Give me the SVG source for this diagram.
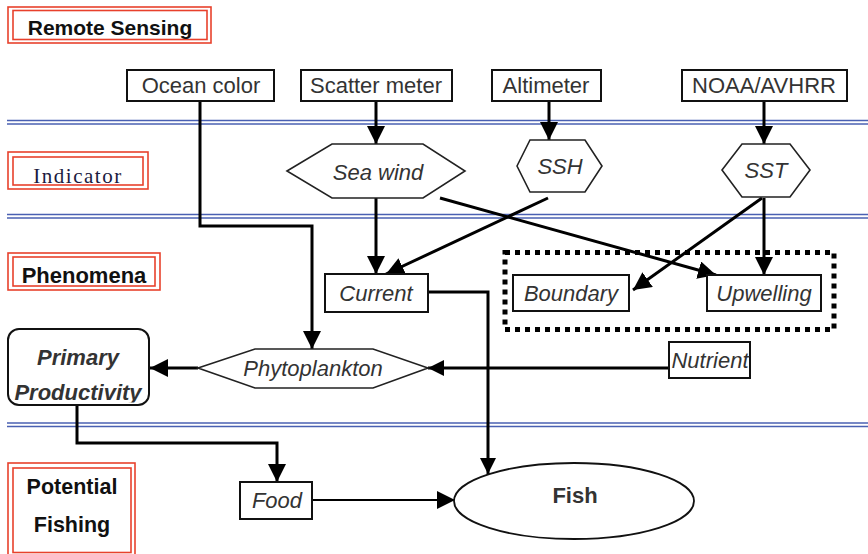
<svg xmlns="http://www.w3.org/2000/svg" width="868" height="554" viewBox="0 0 868 554">
  <defs>
    <marker id="arrow" viewBox="0 0 10 10" refX="10" refY="5" markerUnits="userSpaceOnUse" markerWidth="18" markerHeight="18" orient="auto">
      <path d="M0,0 L10,5 L0,10 z" fill="#000"/>
    </marker>
    <marker id="arrow-s" viewBox="0 0 10 10" refX="10" refY="5" markerUnits="userSpaceOnUse" markerWidth="16" markerHeight="16" orient="auto">
      <path d="M0,0 L10,5 L0,10 z" fill="#000"/>
    </marker>
    <clipPath id="pp-clip">
      <rect x="9" y="330" width="140" height="72.5"/>
    </clipPath>
  </defs>
  <style>
    .sep { stroke: #4a60b2; stroke-width: 1.6; fill: none; }
    .lbl-out, .lbl-in { fill: none; stroke: #e8412c; stroke-width: 1.6; }
    .lbl { font-family: "Liberation Sans", Arial, sans-serif; font-weight: bold; fill: #111; }
    .box { fill: #fff; stroke: #111; stroke-width: 2; }
    .hex { fill: #fff; stroke: #222; stroke-width: 1.6; }
    .t { font-family: "Liberation Sans", Arial, sans-serif; font-size: 22px; fill: #333; text-anchor: middle; }
    .ti { font-family: "Liberation Sans", Arial, sans-serif; font-size: 22px; font-style: italic; fill: #333; text-anchor: middle; }
    .edge { fill: none; stroke: #000; stroke-width: 3; }
    .edge-thin { fill: none; stroke: #000; stroke-width: 2; }
  </style>

  <rect x="0" y="0" width="868" height="554" fill="#fff"/>

  <!-- layer separators -->
  <g id="separators">
    <line class="sep" x1="7" y1="120.5" x2="868" y2="120.5"/>
    <line class="sep" x1="7" y1="124" x2="868" y2="124"/>
    <line class="sep" x1="7" y1="214.5" x2="868" y2="214.5"/>
    <line class="sep" x1="7" y1="218" x2="868" y2="218"/>
    <line class="sep" x1="7" y1="423" x2="868" y2="423"/>
    <line class="sep" x1="7" y1="426.5" x2="868" y2="426.5"/>
  </g>

  <!-- layer labels -->
  <g id="label-remote-sensing">
    <rect class="lbl-out" x="8" y="7" width="203" height="36"/>
    <rect class="lbl-in" x="13" y="10.5" width="194" height="29"/>
    <text class="lbl" x="110" y="35" font-size="21" text-anchor="middle">Remote Sensing</text>
  </g>
  <g id="label-indicator">
    <rect class="lbl-out" x="8" y="152" width="140" height="37"/>
    <rect class="lbl-in" x="13" y="157" width="130" height="28"/>
    <text x="78" y="183" font-family="Liberation Serif, 'Times New Roman', serif" font-size="21" letter-spacing="1.5" fill="#1a1a40" text-anchor="middle">Indicator</text>
  </g>
  <g id="label-phenomena">
    <rect class="lbl-out" x="8" y="253" width="152" height="37"/>
    <rect class="lbl-in" x="13" y="257" width="142" height="29"/>
    <text class="lbl" x="84" y="283" font-size="22" text-anchor="middle">Phenomena</text>
  </g>
  <g id="label-potential-fishing">
    <rect class="lbl-out" x="8" y="463" width="127" height="96"/>
    <rect class="lbl-in" x="13" y="468" width="118" height="84.5"/>
    <text class="lbl" x="72" y="494" font-size="21.5" text-anchor="middle" fill="#333">Potential</text>
    <text class="lbl" x="72" y="532" font-size="21.5" text-anchor="middle" fill="#333">Fishing</text>
  </g>

  <!-- connectors -->
  <g id="connectors">
    <path class="edge" d="M200,101 V226 H312 V349" marker-end="url(#arrow)"/>
    <path class="edge" d="M376,101 V144" marker-end="url(#arrow)"/>
    <path class="edge" d="M549,101 V140" marker-end="url(#arrow)"/>
    <path class="edge" d="M764,101 V144" marker-end="url(#arrow)"/>
    <path class="edge" d="M376,198 V274" marker-end="url(#arrow)"/>
    <path class="edge" d="M548,198 L386,274" marker-end="url(#arrow)"/>
    <path class="edge" d="M440,198 L716,275" marker-end="url(#arrow)"/>
    <path class="edge" d="M762,198 L633,290" marker-end="url(#arrow)"/>
    <path class="edge" d="M764,198 V275" marker-end="url(#arrow)"/>
    <path class="edge" d="M669,368 H428" marker-end="url(#arrow-s)"/>
    <path class="edge" d="M198,368 H150" marker-end="url(#arrow)"/>
    <path class="edge" d="M428,292 H488 V474" marker-end="url(#arrow-s)"/>
    <path class="edge" d="M77,405 V443 H277 V482" marker-end="url(#arrow)"/>
    <path class="edge-thin" d="M312,500 H455" marker-end="url(#arrow)"/>
  </g>

  <!-- remote sensing sources -->
  <g id="ocean-color">
    <rect class="box" x="127" y="70" width="147" height="31"/>
    <text class="t" x="201" y="93">Ocean color</text>
  </g>
  <g id="scatter-meter">
    <rect class="box" x="301" y="70" width="151" height="31"/>
    <text class="t" x="376" y="93">Scatter meter</text>
  </g>
  <g id="altimeter">
    <rect class="box" x="492" y="70" width="109" height="31"/>
    <text class="t" x="546" y="93">Altimeter</text>
  </g>
  <g id="noaa-avhrr">
    <rect class="box" x="682" y="70" width="165" height="31"/>
    <text class="t" x="764" y="93">NOAA/AVHRR</text>
  </g>

  <!-- indicators -->
  <g id="sea-wind">
    <polygon class="hex" points="287,171 332,144 423,144 465,171 423,198 332,198"/>
    <text class="ti" x="378" y="180">Sea wind</text>
  </g>
  <g id="ssh">
    <polygon class="hex" points="517,166 530,140 585,140 602,166 585,192 530,192"/>
    <text class="ti" x="560" y="174">SSH</text>
  </g>
  <g id="sst">
    <polygon class="hex" points="722,170 742,144 790,144 810,170 790,197 742,197"/>
    <text class="ti" x="766" y="178">SST</text>
  </g>

  <!-- phenomena -->
  <g id="current">
    <rect class="box" x="325" y="274" width="103" height="38"/>
    <text class="ti" x="376" y="301">Current</text>
  </g>
  <g id="frontal-group">
    <rect x="505" y="252.5" width="329" height="77" fill="none" stroke="#000" stroke-width="5" stroke-dasharray="5 5"/>
  </g>
  <g id="boundary">
    <rect class="box" x="513" y="275" width="116" height="36"/>
    <text class="ti" x="571" y="301">Boundary</text>
  </g>
  <g id="upwelling">
    <rect class="box" x="707" y="275" width="114" height="36"/>
    <text class="ti" x="764" y="301">Upwelling</text>
  </g>
  <g id="nutrient">
    <rect class="box" x="669" y="342" width="81" height="36"/>
    <text class="ti" x="710" y="368" fill="#223">Nutrient</text>
  </g>
  <g id="phytoplankton">
    <polygon class="hex" points="198,368 255,349 373,349 428,368 373,388 255,388"/>
    <text class="ti" x="313" y="376" font-size="20">Phytoplankton</text>
  </g>
  <g id="primary-productivity">
    <rect class="box" x="8" y="329" width="141" height="76" rx="11" ry="11"/>
    <text class="ti" x="78" y="365" font-size="20" font-weight="bold">Primary</text>
    <text class="ti" x="78" y="400" font-size="20" font-weight="bold" clip-path="url(#pp-clip)">Productivity</text>
  </g>

  <!-- potential fishing -->
  <g id="food">
    <rect class="box" x="240" y="482" width="72" height="37"/>
    <text class="ti" x="277" y="508">Food</text>
  </g>
  <g id="fish">
    <ellipse cx="574" cy="501" rx="120" ry="38" fill="#fff" stroke="#111" stroke-width="1.8"/>
    <text class="t" x="575" y="503" font-weight="bold" fill="#555">Fish</text>
  </g>
</svg>
